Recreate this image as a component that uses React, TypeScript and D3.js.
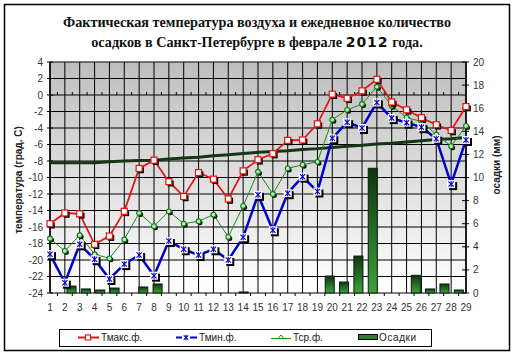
import React from 'react';
import * as d3 from 'd3';

const days = [1,2,3,4,5,6,7,8,9,10,11,12,13,14,15,16,17,18,19,20,21,22,23,24,25,26,27,28,29];
const tMax = [-15.6,-14.3,-14.4,-18.1,-17.1,-14.1,-8.9,-7.9,-10.5,-12.3,-9.4,-10.2,-12.6,-9.2,-7.85,-7.1,-5.5,-5.45,-3.5,0.1,-0.4,0.5,1.9,-0.85,-1.8,-2.75,-3.6,-4.3,-1.4];
const tMin = [-19.3,-22.75,-18.1,-19.9,-22.3,-20.5,-19.4,-21.9,-17.7,-18.7,-19.4,-18.7,-20.0,-17.25,-12.1,-16.4,-11.9,-9.9,-11.7,-5.25,-3.3,-4.0,-0.9,-2.8,-3.35,-3.9,-5.3,-10.8,-5.45];
const tAvg = [-17.4,-18.9,-17.0,-19.3,-19.8,-17.5,-14.3,-15.9,-14.1,-15.6,-15.3,-14.5,-17.2,-13.45,-9.3,-12.0,-8.9,-8.45,-8.1,-3.0,-1.8,-1.1,1.0,-1.3,-2.75,-3.2,-4.8,-6.2,-3.75];
const tNorm = [-8.2,-8.2,-8.2,-8.2,-8.1,-8.0,-7.95,-7.9,-7.75,-7.65,-7.55,-7.35,-7.25,-7.1,-6.95,-6.85,-6.75,-6.6,-6.5,-6.35,-6.2,-6.1,-5.95,-5.85,-5.7,-5.55,-5.4,-5.3,-5.15];
const precip = [0,0.6,0.35,0.26,0.43,0,0.52,0.78,0,0,0,0,0,0.09,0,0,0,0,0,1.47,0.95,3.2,10.8,0,0,1.53,0.35,0.78,0.26];
const leftTicks = [4,2,0,-2,-4,-6,-8,-10,-12,-14,-16,-18,-20,-22,-24];
const rightTicks = [20,18,16,14,12,10,8,6,4,2,0];

const LEFT = 50, RIGHT = 466, TOP = 62, BOTTOM = 293;
const sans = '"Liberation Sans", Arial, sans-serif';

function Asterisk({ x, y, s = 1 }: { x: number; y: number; s?: number }) {
  const a = 2.6 * s;
  return (
    <g stroke="#0000cc" strokeWidth={1.1}>
      <line x1={x - a} y1={y - a} x2={x + a} y2={y + a} />
      <line x1={x - a} y1={y + a} x2={x + a} y2={y - a} />
      <line x1={x} y1={y - a - 0.6} x2={x} y2={y + a + 0.6} />
    </g>
  );
}

export default function App() {
  const x = d3.scalePoint<number>().domain(days).range([LEFT, RIGHT]);
  const xb = d3.scaleBand<number>().domain(days).range([LEFT, RIGHT]).padding(0);
  const yL = d3.scaleLinear().domain([-24, 4]).range([BOTTOM, TOP]);
  const yR = d3.scaleLinear().domain([0, 20]).range([BOTTOM, TOP]);
  const line = (vals: number[]) =>
    d3.line<number>().x((_, i) => x(days[i]) as number).y((v) => yL(v))(vals) as string;
  const bw = xb.bandwidth() * 0.63;

  return (
    <svg width={514} height={355} style={{ position: 'absolute', left: 0, top: 0, background: '#fff' }}>
      <defs>
        <linearGradient id="bg" x1="0" y1="0" x2="0" y2="1">
          <stop offset="0" stopColor="#bebebe" />
          <stop offset="1" stopColor="#ffffff" />
        </linearGradient>
        <linearGradient id="bar" x1="0" y1="0" x2="0" y2="1">
          <stop offset="0" stopColor="#0f3310" />
          <stop offset="1" stopColor="#3ea23e" />
        </linearGradient>
      </defs>
      <rect x={4.5} y={4.5} width={505} height={346} fill="#fff" stroke="#000" strokeWidth={1.5} />

      <text x={257} y={27} textAnchor="middle" fontFamily='"Liberation Serif", serif' fontWeight="bold" fontSize={14.2} fill="#111">
        Фактическая температура воздуха и ежедневное количество
      </text>
      <text x={257} y={47} textAnchor="middle" fontFamily='"Liberation Serif", serif' fontWeight="bold" fontSize={14.2} fill="#111">
        осадков в Санкт-Петербурге в феврале{' '}
        <tspan fontFamily='"DejaVu Sans", sans-serif' fontSize={14} letterSpacing={1}>2012</tspan> года.
      </text>

      {/* plot background */}
      <rect x={LEFT} y={TOP} width={RIGHT - LEFT} height={BOTTOM - TOP} fill="url(#bg)" />

      {/* grid */}
      {leftTicks.map((t) => (
        <line key={'h' + t} x1={LEFT} x2={RIGHT} y1={yL(t)} y2={yL(t)} stroke="#000" strokeWidth={1} />
      ))}
      {days.map((d) => (
        <line key={'v' + d} x1={x(d)} x2={x(d)} y1={TOP} y2={BOTTOM} stroke="#000" strokeWidth={1} />
      ))}
      {days.slice(0, -1).map((d) => {
        const xm = ((x(d) as number) + (x(d + 1) as number)) / 2;
        return <line key={'t0' + d} x1={xm} x2={xm} y1={yL(0) - 3} y2={yL(0)} stroke="#000" strokeWidth={1} />;
      })}
      {days.slice(0, -1).map((d) => {
        const xm = ((x(d) as number) + (x(d + 1) as number)) / 2;
        return <line key={'tb' + d} x1={xm} x2={xm} y1={BOTTOM} y2={BOTTOM + 3} stroke="#000" strokeWidth={1} />;
      })}

      {/* axis lines & ticks */}
      <line x1={LEFT} x2={LEFT} y1={TOP} y2={BOTTOM} stroke="#000" strokeWidth={1.5} />
      <line x1={RIGHT} x2={RIGHT} y1={TOP} y2={BOTTOM} stroke="#000" strokeWidth={1.5} />
      {leftTicks.map((t) => (
        <line key={'lt' + t} x1={LEFT - 3} x2={LEFT + 3} y1={yL(t)} y2={yL(t)} stroke="#000" />
      ))}
      {rightTicks.map((t) => (
        <line key={'rt' + t} x1={RIGHT - 4} x2={RIGHT + 3} y1={yR(t)} y2={yR(t)} stroke="#000" />
      ))}

      {/* precipitation bars */}
      {precip.map((p, i) =>
        p > 0 ? (
          <rect
            key={'b' + i}
            x={(xb(days[i]) as number) + (xb.bandwidth() - bw) / 2}
            y={yR(p)}
            width={bw}
            height={yR(0) - yR(p)}
            fill="url(#bar)"
            stroke="#0a1f0a"
            strokeWidth={1}
          />
        ) : null
      )}

      {/* norm line */}
      <path d={line(tNorm)} fill="none" stroke="#163516" strokeWidth={3} />

      {/* T avg */}
      <path d={line(tAvg)} fill="none" stroke="#1a8a1a" strokeWidth={1} />
      {tAvg.map((v, i) => (
        <g key={'ga' + i}>
          <circle cx={(x(days[i]) as number) + 1.5} cy={yL(v) + 1.5} r={2.5} fill="#111" />
          <circle cx={x(days[i])} cy={yL(v)} r={2.4} fill="#bfe8bf" stroke="#0a7a0a" strokeWidth={1.1} />
        </g>
      ))}

      {/* T min */}
      <path d={line(tMin)} fill="none" stroke="#0000cc" strokeWidth={2.5} />
      {tMin.map((v, i) => {
        const cx = x(days[i]) as number, cy = yL(v);
        return (
          <g key={'gm' + i}>
            <rect x={cx - 4 + 2} y={cy - 4 + 2} width={8} height={8} fill="#000" />
            <rect x={cx - 4} y={cy - 4} width={8} height={8} fill="#fff" />
            <Asterisk x={cx} y={cy} />
          </g>
        );
      })}

      {/* T max */}
      <path d={line(tMax)} fill="none" stroke="#e81010" strokeWidth={1.7} />
      {tMax.map((v, i) => {
        const cx = x(days[i]) as number, cy = yL(v);
        return (
          <g key={'gx' + i}>
            <rect x={cx - 3 + 1.8} y={cy - 3 + 1.8} width={6} height={6} fill="#000" />
            <rect x={cx - 3} y={cy - 3} width={6} height={6} fill="#fff" stroke="#e81010" strokeWidth={1.2} />
          </g>
        );
      })}

      {/* tick labels */}
      {leftTicks.map((t) => (
        <text key={'ll' + t} x={43} y={yL(t) + 3.5} textAnchor="end" fontFamily={sans} fontSize={10} fill="#333">
          {t}
        </text>
      ))}
      {rightTicks.map((t) => (
        <text key={'rl' + t} x={473} y={yR(t) + 3.5} textAnchor="start" fontFamily={sans} fontSize={10} fill="#333">
          {t}
        </text>
      ))}
      {days.map((d) => (
        <text key={'xl' + d} x={x(d)} y={311} textAnchor="middle" fontFamily={sans} fontSize={10} fill="#333">
          {d}
        </text>
      ))}

      {/* axis titles */}
      <text transform="translate(22,180) rotate(-90)" textAnchor="middle" fontFamily={sans} fontWeight="bold" fontSize={10} fill="#222">
        температура (град. С)
      </text>
      <text transform="translate(500,165) rotate(-90)" textAnchor="middle" fontFamily={sans} fontWeight="bold" fontSize={10} fill="#222">
        осадки (мм)
      </text>

      {/* legend */}
      <rect x={59.5} y={329.5} width={372} height={17} fill="#fff" stroke="#000" strokeWidth={1} />
      <line x1={78} x2={99} y1={337.5} y2={337.5} stroke="#e81010" strokeWidth={2} />
      <rect x={85.5} y={335} width={5} height={5} fill="#fff" stroke="#e81010" strokeWidth={1.1} />
      <text x={101} y={341} fontFamily={sans} fontSize={10} fill="#222">Тмакс.ф.</text>

      <line x1={176} x2={197} y1={337.5} y2={337.5} stroke="#0000cc" strokeWidth={2} />
      <rect x={182} y={334} width={8} height={7} fill="#fff" />
      <Asterisk x={186} y={337.5} s={0.85} />
      <text x={199} y={341} fontFamily={sans} fontSize={10} fill="#222">Тмин.ф.</text>

      <line x1={271} x2={291} y1={338.5} y2={338.5} stroke="#1a8a1a" strokeWidth={1} />
      <path d="M278,338.5 L281,335 L284,338.5 Z" fill="#fff" stroke="#1a8a1a" strokeWidth={1} />
      <text x={293} y={341} fontFamily={sans} fontSize={10} fill="#222">Тср.ф.</text>

      <rect x={358.5} y={334.5} width={19} height={5} fill="#2e7d32" stroke="#000" strokeWidth={1} />
      <text x={379} y={341} fontFamily={sans} fontSize={10} fill="#222" letterSpacing={0.6}>Осадки</text>
    </svg>
  );
}
